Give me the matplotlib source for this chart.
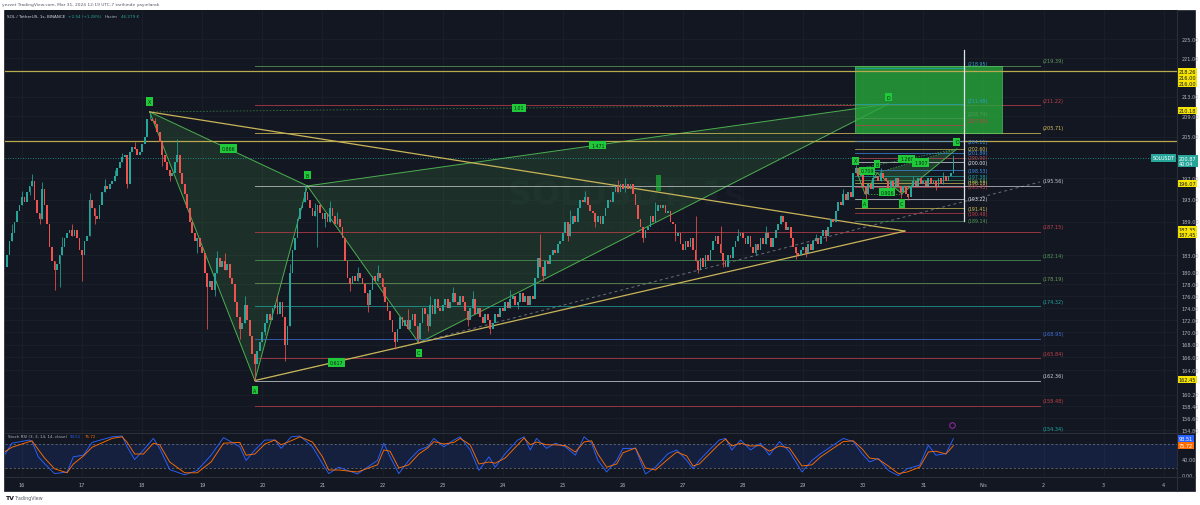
import numpy as np
import matplotlib.pyplot as plt
from matplotlib.patches import Rectangle, Polygon
from matplotlib.ticker import NullLocator
from matplotlib.transforms import blended_transform_factory as blend

W, H = 1200, 506
BG = '#131722'
GRID = '#1c202b'
TXT = '#b2b5be'
UP = '#26a69a'
DN = '#ef5350'
TAG = '#1fc93a'

# SOL/USDT 1h closes, hour index counted from Mar 15 00:00 (chart tz UTC-7)
first_hour = 17
first_open = 184.5
c_mar15 = [181, 183, 185.5, 187, 189, 191, 192]
c_mar16 = [193.5, 192.5, 194.5, 195.5, 196.5, 193, 190.5, 189.5, 195, 192, 188.5, 184.5,
           182, 180.5, 181.5, 183, 184.5, 186, 187, 187.5, 186.5, 187.5, 186, 184]
c_mar17 = [183, 185.5, 186.5, 193, 191.5, 190, 189.5, 192, 194.5, 195.5, 195, 196,
           196.5, 197.5, 199, 200, 201, 201.5, 196, 202, 203, 202.5, 201.5, 202]
c_mar18 = [203.5, 205, 208.5, 208.5, 208, 207.5, 206, 204, 201.5, 200, 198.5, 197.5,
           198, 200, 201.5, 198, 196, 194, 191.5, 189, 187, 185.5, 186, 184.5]
c_mar19 = [183.5, 180, 177.5, 178.5, 177, 180, 182.5, 181, 182, 180.5, 181.5, 179,
           178, 175, 172.5, 170.5, 171.5, 174.5, 172, 169.5, 166.5, 165, 167, 168.5]
c_mar20 = [170, 171.5, 173, 172, 174, 174.5, 173, 175, 172.5, 168, 171, 180,
           184, 186, 189.5, 191.5, 192.5, 194.5, 193, 191.5, 190, 191, 192, 190.5]
c_mar21 = [189.5, 190.5, 189, 191.5, 190, 188.5, 189.5, 188, 186, 182, 179, 178,
           179.5, 178.5, 180, 179, 178, 176.5, 174.5, 177, 179.5, 178.5, 180, 179]
c_mar22 = [177.5, 175, 173.5, 172, 170, 168.5, 170.5, 172.5, 171, 172, 170.5, 172,
           173, 171, 169, 171.5, 174, 173, 171, 174.5, 173, 175.5, 174, 173.5]
c_mar23 = [174.5, 175.5, 174, 175, 176.5, 175, 174.5, 176, 175, 173.5, 172, 174,
           175.5, 173, 174, 172.5, 171.5, 173, 172, 170.5, 171.5, 173, 172.5, 174]
c_mar24 = [173.5, 175, 174, 175.5, 176, 174.5, 175, 176.5, 175, 176, 174.5, 176,
           175.5, 179, 182.5, 181, 179.5, 182, 181.5, 183, 184, 183.5, 185, 185.5]
c_mar25 = [187, 189, 186.5, 188.5, 190, 189, 191.5, 193, 192.5, 193.5, 192, 191,
           190.5, 189, 190, 188.5, 190, 191.5, 193, 192.5, 194.5, 195.5, 194.5, 196]
c_mar26 = [195, 196, 195, 196, 194, 192, 189.5, 188, 186, 187.5, 188, 190,
           189, 191, 192, 191.5, 192, 190.5, 191, 189, 188.5, 186.5, 187, 185]
c_mar27 = [184, 185.5, 184.5, 186, 184, 182, 180.5, 182.5, 181, 183, 182, 184,
           185.5, 186.5, 185, 183.5, 182, 181, 183, 182.5, 184.5, 185.5, 186.5, 187]
c_mar28 = [186, 185, 186.5, 184.5, 183.5, 185, 184, 186, 185, 187, 186, 184.5,
           186, 187.5, 188.5, 190, 189, 187.5, 188, 186, 184.5, 183.5, 183, 184]
c_mar29 = [184.5, 183.5, 185, 184, 185.5, 186, 185, 186.5, 187.5, 186.5, 188, 189.5,
           189, 191, 192.5, 192, 194, 193, 194.5, 193.5, 198, 199, 197.5, 198.5]
c_mar30 = [195.5, 194, 196, 195, 197, 197.5, 196.5, 198, 197, 196.5, 195, 196.5,
           195.5, 197, 195.5, 194.5, 195.5, 194, 193.5, 195.5, 196.5, 195.5, 197, 196]
c_mar31 = [196.5, 195.5, 197, 196, 196.5, 195.5, 197, 196, 197.5, 196.5, 197.5, 198, 200.87]

# visible wick extremes (hour -> price)
wick_hi = {20: 188.5, 24: 194.6, 28: 197.8, 32: 196.3, 40: 186.2, 44: 188.6, 51: 194.2, 57: 196.8,
           61: 198.6, 64: 201.8, 69: 204.0, 75: 209.9, 77: 208.6, 86: 204.5, 90: 193.0, 102: 183.8,
           105: 183.4, 113: 176.0, 126: 176.0, 131: 181.5, 137: 195.56, 141: 192.4, 147: 192.8,
           150: 190.8, 158: 181.0, 166: 181.4, 178: 173.8, 187: 176.0, 196: 177.6, 204: 176.8,
           219: 177.0, 231: 186.7, 243: 191.2, 249: 194.6, 262: 196.6, 265: 197.0, 277: 192.6,
           293: 190.0, 303: 188.3, 310: 187.6, 321: 188.2, 327: 190.2, 341: 186.8, 352: 195.0,
           357: 199.6, 364: 198.8, 367: 199.0, 380: 197.4, 392: 198.2, 396: 201.4}
wick_lo = {17: 180.4, 27: 193.8, 31: 188.6, 37: 177.0, 39: 177.6, 48: 178.6, 53: 188.6, 66: 195.2,
           80: 199.4, 83: 196.4, 94: 183.4, 98: 170.5, 101: 176.0, 111: 169.0, 117: 162.36,
           121: 169.6, 129: 165.5, 142: 184.5, 145: 188.0, 155: 176.8, 162: 173.4, 168: 176.0,
           173: 167.4, 182: 168.3, 186: 170.2, 202: 171.0, 211: 169.8, 222: 173.8, 232: 178.6,
           242: 185.6, 253: 188.0, 265: 194.4, 272: 185.4, 285: 185.6, 294: 180.0, 304: 181.0,
           317: 183.0, 333: 182.4, 337: 182.8, 345: 185.6, 361: 193.2, 375: 193.4, 378: 193.0,
           389: 194.8}

# Stoch RSI (3, 3, 14, 14, close) read at turning points
k_hours = [17, 20, 27, 28, 30.5, 33, 37, 42, 44.5, 48.5, 52, 60, 64, 66, 69, 72.5, 76.5, 79, 83, 89,
           94, 99.5, 104.5, 111, 113.5, 117, 121, 125, 127.5, 131.5, 135, 140, 144, 146.5, 150.5,
           158, 166, 168.5, 171, 174.5, 178.5, 182.5, 186, 188.5, 192.5, 196.5, 199, 203, 206.5,
           210.5, 213, 217, 222, 224.5, 227, 229.5, 233.5, 237, 241, 245, 248.5, 251.5, 254, 257.5,
           261.5, 264, 269, 273, 277, 282, 285.5, 289.5, 292, 294.5, 298.5, 302.5, 305, 307.5, 311,
           315, 319, 322.5, 326.5, 330.5, 335.5, 339.5, 343, 347, 352, 356, 359.5, 362.5, 366, 370,
           374, 377.5, 382.5, 386, 389, 393, 396]
k_vals = [52, 82, 90, 86, 48, 31, 6, 10, 48, 52, 84, 98, 100, 73, 41, 65, 94, 69, 16, 3,
          14, 52, 96, 73, 39, 65, 90, 90, 69, 98, 100, 73, 31, 6, 22, 5, 39, 82, 48, 6,
          39, 65, 73, 94, 73, 90, 98, 65, 14, 48, 22, 56, 90, 98, 65, 94, 69, 82, 73, 52,
          98, 82, 39, 10, 39, 69, 69, 5, 22, 56, 65, 39, 18, 39, 65, 90, 94, 65, 90, 65,
          82, 52, 86, 61, 10, 39, 56, 73, 94, 86, 56, 35, 44, 14, 1, 18, 27, 77, 52, 56, 93.51]
d_vals = [60, 72, 86, 88, 66, 45, 18, 8, 30, 50, 72, 94, 98, 84, 55, 55, 82, 78, 35, 8,
          8, 35, 82, 84, 52, 55, 80, 90, 78, 88, 98, 85, 48, 15, 15, 10, 28, 65, 62, 20,
          28, 55, 70, 86, 80, 84, 94, 78, 30, 35, 32, 45, 78, 95, 78, 85, 78, 78, 76, 60,
          85, 88, 55, 22, 30, 58, 70, 20, 15, 42, 60, 50, 25, 30, 55, 80, 92, 75, 82, 75,
          76, 62, 75, 70, 25, 28, 48, 65, 86, 88, 68, 45, 42, 25, 6, 10, 22, 60, 62, 55, 75.72]

# harmonic pattern points (hour, price)
big_pts = {'X': (75, 209.9), 'A': (117, 162.36), 'B': (138, 195.56), 'C': (182.5, 168.3), 'D': (370, 211.48)}
small_pts = {'X': (357, 198.7), 'A': (360.7, 194.1), 'B': (365.5, 198.0), 'C': (375.4, 194.1), 'D': (397.4, 202.6)}

fib_levels = [219.39, 211.22, 205.71, 195.56, 187.15, 182.14, 178.19, 174.32, 168.95, 165.84, 162.36, 158.48, 154.34]
fib_colors = ['#5f9e5f', '#c2404a', '#d8c45a', '#c8cad0', '#c2404a', '#4f9a57', '#6b9a5a', '#1fa8a0',
              '#3f6fd8', '#c2404a', '#d1d4dc', '#c2404a', '#1fa8a0']
zone_levels = [218.95, 211.48, 208.74, 207.29]
zone_colors = ['#2aa3c4', '#2aa3c4', '#4f9a57', '#c2404a']
small_levels = [204.11, 202.60, 201.89, 200.90, 200.00, 198.53, 197.38, 196.58, 196.18, 195.45,
                193.22, 191.41, 190.48, 189.14]
small_colors = ['#3f8fe8', '#d8c45a', '#3f8fe8', '#c2404a', '#e0e3eb', '#3f8fe8', '#1fa8a0', '#4f9a57',
                '#d8c45a', '#c2404a', '#e0e3eb', '#d8c45a', '#c2404a', '#4f9a57']

price_ticks = [225, 221, 213, 209, 205, 197, 193, 189, 183, 180, 178, 176, 174, 172, 170, 168, 166, 164,
               160.2, 158.4, 156.6, 154.8]
axis_tags = [(218.26, '218.26'), (216.9, '216.00'), (215.6, '216.00'), (210.18, '210.18'),
             (196.07, '196.07'), (187.6, '187.35'), (186.6, '187.45'), (162.45, '162.45')]
last_price = 200.87
day_labels = [str(d) for d in range(16, 32)] + ['Nis', '2', '3', '4']

closes = np.array(c_mar15 + c_mar16 + c_mar17 + c_mar18 + c_mar19 + c_mar20 + c_mar21 + c_mar22 +
                  c_mar23 + c_mar24 + c_mar25 + c_mar26 + c_mar27 + c_mar28 + c_mar29 + c_mar30 + c_mar31)
opens = np.concatenate([[first_open], closes[:-1]])
hours = np.arange(first_hour, first_hour + len(closes))


def frame(x0, y0, x1, y1):
    return [x0 / W, 1 - y1 / H, (x1 - x0) / W, (y1 - y0) / H]


fig = plt.figure(figsize=(12, 5.06), dpi=100, facecolor='white')
fig.patches.append(Rectangle((4 / W, 1 - 492 / H), 1191 / W, 481 / H, transform=fig.transFigure,
                             facecolor=BG, edgecolor='#2a2e39', lw=0.6, zorder=-5))

ax = fig.add_axes(frame(5, 11, 1177, 434))
ax2 = fig.add_axes(frame(5, 434, 1177, 478), sharex=ax)
for a in (ax, ax2):
    a.set_facecolor(BG)
    for s in a.spines.values():
        s.set_visible(False)
    a.tick_params(left=False, right=False, bottom=False, labelleft=False, labelbottom=False)
ax.set_yscale('log')
ax.yaxis.set_major_locator(NullLocator())
ax.yaxis.set_minor_locator(NullLocator())
ax.set_xlim(17.21, 485.3)
ax.set_ylim(154.42, 231.38)
ax2.set_ylim(-2.5, 107.5)
ax2.set_yticks([])

day_hours = [24 * (i + 1) for i in range(len(day_labels))]
for h in day_hours:
    ax.axvline(h, color=GRID, lw=0.6, zorder=0)
    ax2.axvline(h, color=GRID, lw=0.6, zorder=0)
for p in price_ticks:
    ax.axhline(p, color=GRID, lw=0.6, zorder=0)

# watermark
ax.text(0.53, 0.565, 'SOLUSDT, 1s', transform=ax.transAxes, fontsize=24, color='#181c28',
        ha='center', va='center', fontweight='bold', zorder=0)
ax.text(0.53, 0.49, 'Solana / TetherUS', transform=ax.transAxes, fontsize=8, color='#181c28',
        ha='center', va='center', zorder=0)

trA = blend(ax.transAxes, ax.transData)

# full-width horizontal lines
for p in (218.26, 204.2):
    ax.axhline(p, color='#b9a94f', lw=0.9, zorder=3)
ax.axhline(last_price, color=UP, lw=0.6, ls=(0, (1, 2)), zorder=3)

# big harmonic pattern
X, A, B, C, D = [big_pts[k] for k in 'XABCD']
ax.add_patch(Polygon([X, A, B], closed=True, facecolor='#4caf50', alpha=0.17, edgecolor='none', zorder=1))
ax.add_patch(Polygon([B, C, D], closed=True, facecolor='#4caf50', alpha=0.17, edgecolor='none', zorder=1))
for p1, p2 in [(X, A), (A, B), (B, C), (C, D), (X, B), (B, D)]:
    ax.plot([p1[0], p2[0]], [p1[1], p2[1]], color='#4caf50', lw=0.7, zorder=2)
for p1, p2 in [(X, D), (A, C)]:
    ax.plot([p1[0], p2[0]], [p1[1], p2[1]], color='#4caf50', lw=0.6, alpha=0.6, ls=(0, (2, 2)), zorder=2)

# triangle lines
apex = (376.6, 187.3)
ax.plot([75, apex[0]], [209.9, apex[1]], color='#c9b458', lw=0.9, zorder=3)
ax.plot([A[0], apex[0]], [A[1], apex[1]], color='#c9b458', lw=0.9, zorder=3)
ax.plot([181.7, 430.5], [168.3, 196.3], color='#6a6e7a', lw=0.7, ls=(0, (3, 3)), zorder=2)

# fib levels from A
for v, col in zip(fib_levels, fib_colors):
    ax.plot([117, 430.5], [v, v], color=col, lw=0.7, alpha=0.75, zorder=2)
    ax.text(431.7, v * 1.0025, f'({v:.2f})', color=col, fontsize=3.6, ha='left', va='bottom', zorder=5)

# target zone
ax.add_patch(Rectangle((356.7, 205.71), 58.7, 219.39 - 205.71, facecolor='#27a83a', alpha=0.8,
                       edgecolor='#5fd36f', lw=0.5, zorder=2))
for v, col in zip(zone_levels, zone_colors):
    ax.plot([356.7, 400.2], [v, v], color=col, lw=0.6, alpha=0.8, zorder=3)
    ax.text(401.8, v * 1.0015, f'({v:.2f})', color=col, fontsize=3.4, ha='left', va='bottom', zorder=5)

# small pattern fib levels
for v, col in zip(small_levels, small_colors):
    ax.plot([356.7, 400.2], [v, v], color=col, lw=0.6, alpha=0.8, zorder=3)
    ax.text(401.8, v, f'({v:.2f})', color=col, fontsize=3.4, ha='left', va='center', zorder=5)
ax.plot([400.2, 400.2], [189.1, 222.8], color='#e0e3eb', lw=0.9, zorder=4)

sX, sA, sB, sC, sD = [small_pts[k] for k in 'XABCD']
ax.add_patch(Polygon([sB, sC, sD], closed=True, facecolor='#4caf50', alpha=0.25, edgecolor='none', zorder=2))
for p1, p2 in [(sX, sA), (sA, sB), (sB, sC), (sC, sD)]:
    ax.plot([p1[0], p2[0]], [p1[1], p2[1]], color='#4caf50', lw=0.7, zorder=4)
for p1, p2 in [(sX, sB), (sB, sD), (sA, sC), (sX, sD)]:
    ax.plot([p1[0], p2[0]], [p1[1], p2[1]], color='#4caf50', lw=0.5, ls=(0, (2, 2)), zorder=4)

# candles
o, c = opens, closes
up = c >= o
for h in set(wick_hi) | set(wick_lo):
    i = h - first_hour
    top = wick_hi.get(h, max(o[i], c[i]))
    bot = wick_lo.get(h, min(o[i], c[i]))
    ax.vlines(h, bot, top, color=UP if up[i] else DN, lw=0.55, zorder=4)
ax.bar(hours[up], (c - o)[up], bottom=o[up], width=0.7, color=UP, zorder=4)
ax.bar(hours[~up], (o - c)[~up], bottom=c[~up], width=0.7, color=DN, zorder=4)


def tag(x, y, s, fs=3.4):
    ax.text(x, y, s, fontsize=fs, color='#0c2a12', ha='center', va='center', zorder=7,
            bbox=dict(boxstyle='square,pad=0.35', fc=TAG, ec='none'))


tag(X[0], 212.0, 'X')
tag(A[0], 160.9, 'A')
tag(B[0], 197.6, 'B')
tag(C[0], 166.7, 'C')
tag(D[0], 212.9, 'D')
tag((X[0] + B[0]) / 2, 202.7, '0.866')
tag((A[0] + C[0]) / 2, 165.2, '0.617')
tag((B[0] + D[0]) / 2, 203.3, '1.471')
tag((X[0] + D[0]) / 2, 210.7, '1.01')
ax.add_patch(Rectangle((277.4, 194.6), 2.0, 3.0, facecolor=TAG, alpha=0.6, edgecolor='none', zorder=6))

tag(sX[0], 200.3, 'X')
tag(sA[0], 192.3, 'A')
tag(sB[0], 199.7, 'B')
tag(sC[0], 192.3, 'C')
tag(sD[0], 204.0, 'D')
tag(361.5, 198.4, '0.709')
tag(377.4, 200.7, '1.269')
tag(383.0, 200.0, '1.907')
tag(369.5, 194.4, '0.906')

ax.plot(395.6, 155.6, 'o', mfc='none', mec='#9c27b0', ms=4, mew=0.7, zorder=6, clip_on=False)

# right price scale
for p in price_ticks:
    ax.text(1.004, p, f'{p:.2f}', transform=trA, fontsize=3.6, color=TXT, ha='left', va='center',
            clip_on=False)
for p, s in axis_tags:
    ax.text(1.0015, p, s, transform=trA, fontsize=3.6, color='#131722', ha='left', va='center',
            clip_on=False, zorder=8, bbox=dict(boxstyle='square,pad=0.2', fc='#f5e400', ec='none'))
ax.text(1.0015, last_price - 0.6, '200.87\n40:04', transform=trA, fontsize=3.6, color='white',
        ha='left', va='center', linespacing=1.1, clip_on=False, zorder=8,
        bbox=dict(boxstyle='square,pad=0.25', fc=UP, ec='none'))
ax.text(0.998, last_price, 'SOLUSDT', transform=trA, fontsize=3.4, color='white', ha='right',
        va='center', clip_on=False, zorder=8, bbox=dict(boxstyle='square,pad=0.25', fc=UP, ec='none'))

# stoch RSI pane
ax2.axhspan(20, 80, color='#2962ff', alpha=0.13, lw=0)
ax2.axhline(80, color='#787b86', lw=0.5, ls=(0, (3, 3)))
ax2.axhline(20, color='#787b86', lw=0.5, ls=(0, (3, 3)))
ax2.plot(k_hours, k_vals, color='#2962ff', lw=0.65)
ax2.plot(k_hours, d_vals, color='#ff6d00', lw=0.65)
tr2 = blend(ax2.transAxes, ax2.transData)
for v in (40, 0):
    ax2.text(1.004, v, f'{v:.2f}', transform=tr2, fontsize=3.6, color=TXT, ha='left', va='center',
             clip_on=False)
ax2.text(1.0015, 93.51, '93.51', transform=tr2, fontsize=3.6, color='white', ha='left', va='center',
         clip_on=False, bbox=dict(boxstyle='square,pad=0.2', fc='#2962ff', ec='none'))
ax2.text(1.0015, 75.72, '75.72', transform=tr2, fontsize=3.6, color='white', ha='left', va='center',
         clip_on=False, bbox=dict(boxstyle='square,pad=0.2', fc='#ff6d00', ec='none'))

trd = blend(ax2.transData, ax2.transAxes)
for h, s in zip(day_hours, day_labels):
    ax2.text(h, -0.18, s, transform=trd, fontsize=3.6, color=TXT, ha='center', va='center', clip_on=False)

# separators
fig.add_artist(plt.Line2D([5 / W, 1195 / W], [1 - 434 / H] * 2, color='#2a2e39', lw=0.8))
fig.add_artist(plt.Line2D([5 / W, 1195 / W], [1 - 478 / H] * 2, color='#2a2e39', lw=0.8))
fig.add_artist(plt.Line2D([1177 / W] * 2, [1 - 492 / H, 1 - 11 / H], color='#2a2e39', lw=0.8))

# text runs placed one after another
renderer = fig.canvas.get_renderer()


def text_run(x_px, y_px, parts, fs):
    x = x_px
    for s, col in parts:
        t = fig.text(x / W, 1 - y_px / H, s, fontsize=fs, color=col, va='center', ha='left')
        x += t.get_window_extent(renderer).width + 3


text_run(7, 16.5, [('SOL / TetherUS, 1s, BINANCE', '#d1d4dc'), ('+2.54 (+1.28%)', UP),
                   ('Hacim', TXT), ('46.279 K', UP)], 3.0)
text_run(8, 437.5, [('Stoch RSI (3, 3, 14, 14, close)', TXT), ('93.51', '#2962ff'),
                    ('75.72', '#ff6d00')], 2.9)
fig.text(2 / W, 1 - 5 / H, 'yezzet TradingView.com, Mar 31, 2024 12:19 UTC-7 tarihinde yayınlandı',
         fontsize=3.2, color='#555a66', va='center')
fig.text(5 / W, 1 - 499 / H, 'TV', fontsize=4.5, color='#131722', va='center', fontweight='bold')
fig.text(15 / W, 1 - 499 / H, 'TradingView', fontsize=3.4, color='#555a66', va='center')

fig.savefig('out.png', dpi=100, facecolor='white')
